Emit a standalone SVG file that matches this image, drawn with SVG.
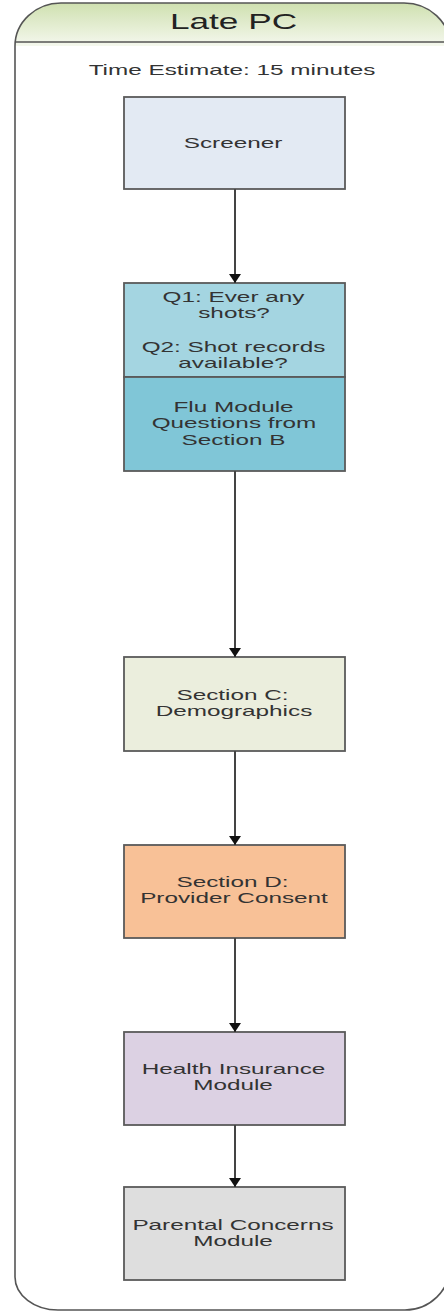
<svg xmlns="http://www.w3.org/2000/svg" width="444" height="1311" viewBox="0 0 444 1311">
<defs>
<linearGradient id="hdr" x1="0" y1="0" x2="0" y2="1">
<stop offset="0" stop-color="#cfe0b0"/>
<stop offset="1" stop-color="#f5f8ee"/>
</linearGradient>
<marker id="arr" markerWidth="9" markerHeight="12" refX="9" refY="6" orient="auto" markerUnits="userSpaceOnUse">
<path d="M0,0 L9,6 L0,12 Z" fill="#111"/>
</marker>
</defs>
<style>
.box{stroke:#5a5a5a;stroke-width:1.8}
.t{font-family:"Liberation Sans",Arial,sans-serif;font-size:15px;fill:#333;text-anchor:middle}
.conn{stroke:#444;stroke-width:2;fill:none}
</style>
<g id="container">
<path d="M15,46 A46,43 0 0 1 61,3 L404,3 A46,43 0 0 1 450,46 Z" fill="url(#hdr)"/>
<path d="M15,46 A46,43 0 0 1 61,3 L404,3 A46,43 0 0 1 450,46 L450,1266 A45,44 0 0 1 405,1310 L58,1310 A43,33 0 0 1 15,1277 Z" fill="none" stroke="#555" stroke-width="1.6"/>
<line x1="15" y1="42" x2="444" y2="42" stroke="#555" stroke-width="1.6"/>
<text transform="translate(233.5,29) scale(1.6,1)" class="t" style="font-size:22px;fill:#222">Late PC</text>
<text transform="translate(232,75) scale(1.62,1)" class="t">Time Estimate: 15 minutes</text>
</g>
<g id="screener">
<rect x="124" y="97" width="221" height="92" class="box" fill="#e3eaf3"/>
<text transform="translate(233,148) scale(1.62,1)" class="t">Screener</text>
</g>
<g id="q1q2">
<rect x="124" y="283" width="221" height="94" class="box" fill="#a4d5e1"/>
<text transform="translate(233.5,302) scale(1.62,1)" class="t">Q1: Ever any</text>
<text transform="translate(234,318) scale(1.62,1)" class="t">shots?</text>
<text transform="translate(233.5,352) scale(1.62,1)" class="t">Q2: Shot records</text>
<text transform="translate(233,368) scale(1.62,1)" class="t">available?</text>
</g>
<g id="flu">
<rect x="124" y="377" width="221" height="94" class="box" fill="#80c6d7"/>
<text transform="translate(233.5,412) scale(1.62,1)" class="t">Flu Module</text>
<text transform="translate(234,428) scale(1.62,1)" class="t">Questions from</text>
<text transform="translate(233.5,445) scale(1.62,1)" class="t">Section B</text>
</g>
<g id="sectionC">
<rect x="124" y="657" width="221" height="94" class="box" fill="#ebeedd"/>
<text transform="translate(232.5,700) scale(1.62,1)" class="t">Section C:</text>
<text transform="translate(234,716) scale(1.62,1)" class="t">Demographics</text>
</g>
<g id="sectionD">
<rect x="124" y="845" width="221" height="93" class="box" fill="#f8c197"/>
<text transform="translate(232.5,887) scale(1.62,1)" class="t">Section D:</text>
<text transform="translate(234,903) scale(1.62,1)" class="t">Provider Consent</text>
</g>
<g id="health">
<rect x="124" y="1032" width="221" height="93" class="box" fill="#dcd1e3"/>
<text transform="translate(233.5,1074) scale(1.62,1)" class="t">Health Insurance</text>
<text transform="translate(233,1090) scale(1.62,1)" class="t">Module</text>
</g>
<g id="parental">
<rect x="124" y="1187" width="221" height="93" class="box" fill="#dedede"/>
<text transform="translate(233,1230) scale(1.62,1)" class="t">Parental Concerns</text>
<text transform="translate(233,1246) scale(1.62,1)" class="t">Module</text>
</g>
<g id="connectors">
<line x1="235" y1="189" x2="235" y2="283" class="conn" marker-end="url(#arr)"/>
<line x1="235" y1="471" x2="235" y2="657" class="conn" marker-end="url(#arr)"/>
<line x1="235" y1="751" x2="235" y2="845" class="conn" marker-end="url(#arr)"/>
<line x1="235" y1="938" x2="235" y2="1032" class="conn" marker-end="url(#arr)"/>
<line x1="235" y1="1125" x2="235" y2="1187" class="conn" marker-end="url(#arr)"/>
</g>
</svg>
